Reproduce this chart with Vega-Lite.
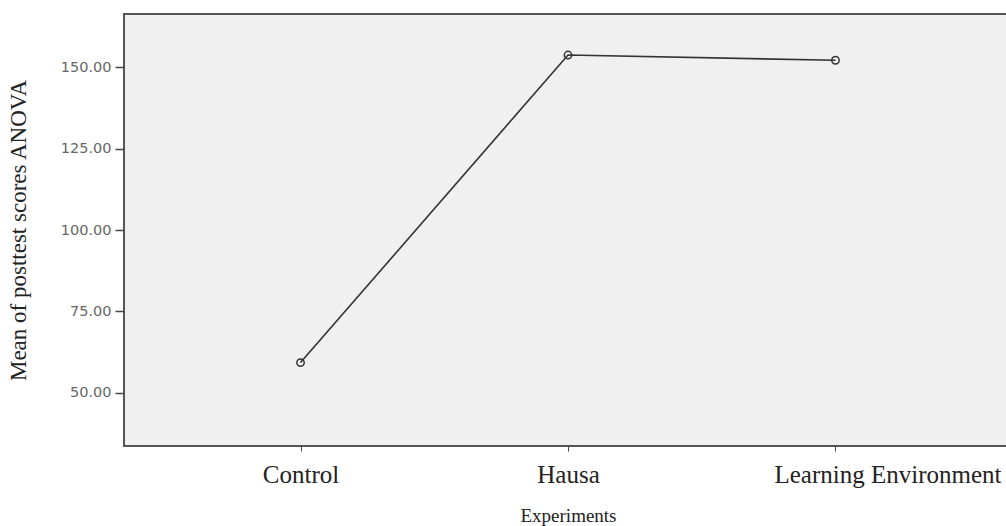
{
  "$schema": "https://vega.github.io/schema/vega-lite/v6.json",
  "autosize": "none",
  "padding": {"left": 124, "top": 14, "right": 0, "bottom": 80},
  "width": 888,
  "height": 432,
  "background": "white",
  "data": {"values": [
    {"group": "Control", "score": 59.3},
    {"group": "Hausa", "score": 153.7},
    {"group": "Learning Environment", "score": 152.1}
  ]},
  "config": {
    "view": {"fill": "#f0f0f0", "stroke": "#555555", "strokeWidth": 2}
  },
  "encoding": {
    "x": {"field": "group", "type": "ordinal", "sort": null,
      "scale": {"type": "point", "padding": 0.66},
      "axis": {"title": "Experiments", "labelAngle": 0, "domain": false, "labelLimit": 0,
        "labelOffset": {"condition": {"test": "datum.value === 'Learning Environment'", "value": 52}, "value": 0},
        "tickColor": "#444", "tickSize": 5, "labelFont": "Liberation Serif", "labelFontSize": 25,
        "labelColor": "#222", "labelPadding": 11, "titleFont": "Liberation Serif", "titleFontSize": 19,
        "titleFontWeight": "normal", "titleColor": "#222", "titlePadding": 19}},
    "y": {"field": "score", "type": "quantitative",
      "scale": {"domain": [33.7, 166.3], "nice": false, "zero": false},
      "axis": {"title": "Mean of posttest scores ANOVA", "values": [50, 75, 100, 125, 150], "format": ".2f",
        "domain": false, "grid": false, "tickColor": "#444", "tickSize": 9, "tickWidth": 1.5,
        "labelFont": "DejaVu Sans", "labelFontSize": 14.5, "labelColor": "#666666", "labelPadding": 4,
        "titleFont": "Liberation Serif", "titleFontSize": 23, "titleFontWeight": "normal",
        "titleColor": "#222", "titlePadding": 30}}
  },
  "layer": [
    {"mark": {"type": "line", "color": "#333333", "strokeWidth": 1.6}},
    {"mark": {"type": "point", "shape": "circle", "filled": false, "size": 55, "stroke": "#333333", "strokeWidth": 1.5, "opacity": 1}}
  ]
}
